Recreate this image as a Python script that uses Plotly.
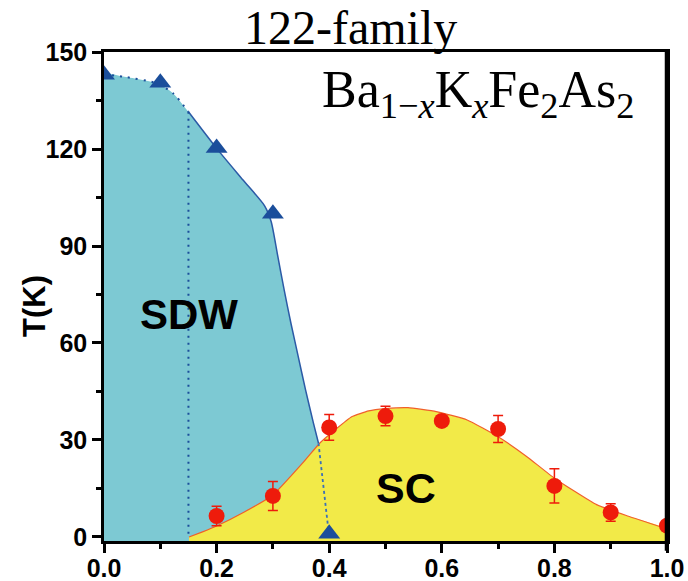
import plotly.graph_objects as go

# ---------------- data ----------------
# SDW transition points (triangles)
x_sdw = [0.0, 0.1, 0.2, 0.3, 0.4]
t_sdw = [143.0, 140.5, 120.3, 100.0, 1.0]

# SC transition points (circles) with error bars
x_sc = [0.2, 0.3, 0.4, 0.5, 0.6, 0.7, 0.8, 0.9, 1.0]
t_sc = [6.5, 12.7, 33.9, 37.4, 35.9, 33.4, 15.8, 7.6, 3.5]
t_sc_err = [3.0, 4.5, 4.0, 3.0, 1.5, 4.2, 5.3, 2.7, 1.0]

# SDW phase boundary (shaded region edge)
sdw_bx = [0.0, 0.034, 0.094, 0.123, 0.15, 0.2, 0.247, 0.285, 0.297, 0.308,
          0.320, 0.332, 0.345, 0.358, 0.372, 0.381]
sdw_by = [143.0, 142.4, 140.3, 137.2, 131.5, 120.2, 110.4, 102.5, 97.5, 87.5,
          76.4, 66.1, 55.8, 45.5, 35.2, 29.0]

# SC dome boundary
sc_bx = [0.151, 0.175, 0.2, 0.25, 0.3, 0.355, 0.383, 0.41, 0.44, 0.47, 0.5,
         0.54, 0.59, 0.645, 0.70, 0.75, 0.80, 0.875, 0.93, 1.0]
sc_by = [0.0, 1.6, 3.4, 7.8, 13.0, 23.3, 29.0, 33.1, 37.2, 39.0, 39.7,
         40.0, 38.8, 36.2, 31.0, 25.0, 18.2, 10.0, 6.5, 2.5]

# dotted guide lines
x_split = 0.15           # vertical dotted line position
x_sdw_end = 0.4          # SDW line extrapolated to T=0

x_ticks = [0.0, 0.2, 0.4, 0.6, 0.8, 1.0]
x_ticklabels = ["0.0", "0.2", "0.4", "0.6", "0.8", "1.0"]
y_ticks = [0, 30, 60, 90, 120, 150]
y_ticklabels = ["0", "30", "60", "90", "120", "150"]

Y_MIN, Y_MAX = -1.24, 150.0

# ---------------- colours ----------------
CYAN = "#7dc9d3"
YELLOW = "#f2ea48"
BLUE = "#1b4e9b"
RED = "#ee1b0b"
SC_LINE = "#f0602a"

fig = go.Figure()

# SDW shaded region
fig.add_trace(go.Scatter(
    x=[sdw_bx[0]] + sdw_bx + [sdw_bx[-1]],
    y=[Y_MIN] + sdw_by + [Y_MIN],
    fill="toself", fillcolor=CYAN, mode="lines",
    line=dict(width=0, color=CYAN, shape="spline", smoothing=0.6),
    hoverinfo="skip", showlegend=False))

# SC shaded region
fig.add_trace(go.Scatter(
    x=sc_bx + [sc_bx[-1], sc_bx[0]],
    y=sc_by + [Y_MIN, Y_MIN],
    fill="toself", fillcolor=YELLOW, mode="lines",
    line=dict(width=0, color=YELLOW, shape="spline", smoothing=0.4),
    hoverinfo="skip", showlegend=False))

# SC dome outline
fig.add_trace(go.Scatter(
    x=sc_bx, y=sc_by, mode="lines",
    line=dict(width=1.2, color=SC_LINE, shape="spline", smoothing=0.4),
    hoverinfo="skip", showlegend=False))

# SDW dotted top segment (x < x_split)
i_split = sdw_bx.index(x_split)
fig.add_trace(go.Scatter(
    x=sdw_bx[:i_split + 1], y=sdw_by[:i_split + 1], mode="lines",
    line=dict(width=2, color=BLUE, dash="2px,6px", shape="spline", smoothing=0.6),
    showlegend=False))

# SDW solid boundary
fig.add_trace(go.Scatter(
    x=sdw_bx[i_split:], y=sdw_by[i_split:], mode="lines",
    line=dict(width=1.5, color="#2b5aa6", shape="spline", smoothing=0.6),
    showlegend=False))

# vertical dotted line
fig.add_trace(go.Scatter(
    x=[x_split, x_split], y=[sdw_by[i_split], 0], mode="lines",
    line=dict(width=2, color=BLUE, dash="2px,5px"), showlegend=False))

# dotted extrapolation to T = 0
fig.add_trace(go.Scatter(
    x=[sdw_bx[-1], x_sdw_end], y=[sdw_by[-1], 0], mode="lines",
    line=dict(width=1.8, color="#3a6fb8", dash="3px,3px"), showlegend=False))

# SDW triangles
fig.add_trace(go.Scatter(
    x=x_sdw, y=t_sdw, mode="markers",
    marker=dict(symbol="triangle-up", size=19, color=BLUE),
    showlegend=False))

# SC circles
fig.add_trace(go.Scatter(
    x=x_sc, y=t_sc, mode="markers",
    marker=dict(symbol="circle", size=16, color=RED),
    error_y=dict(type="data", array=t_sc_err, visible=True,
                 color=RED, thickness=1.5, width=5),
    showlegend=False))

axis_font = dict(family="Liberation Sans, Arial", size=25, color="black",
                 weight="bold")

fig.update_xaxes(
    range=[0, 1], tickmode="array", tickvals=x_ticks, ticktext=x_ticklabels,
    ticks="outside", ticklen=9, tickwidth=2.5, tickcolor="black",
    showline=True, linewidth=2.5, linecolor="black", mirror=True,
    showgrid=False, zeroline=False, tickfont=axis_font, automargin=False,
    ticklabelstandoff=-6,
    minor=dict(dtick=0.1, ticks="outside", ticklen=5, tickwidth=2.5,
               tickcolor="black", showgrid=False))
fig.update_yaxes(
    range=[Y_MIN, Y_MAX], tickmode="array", tickvals=y_ticks, ticktext=y_ticklabels,
    ticks="outside", ticklen=9, tickwidth=2.5, tickcolor="black",
    showline=True, linewidth=2.5, linecolor="black", mirror=True,
    showgrid=False, zeroline=False, tickfont=axis_font, automargin=False,
    minor=dict(tick0=15, dtick=30, ticks="outside", ticklen=5, tickwidth=2.5,
               tickcolor="black", showgrid=False))

# thicker right border
fig.add_shape(type="line", xref="x", yref="paper", x0=1, x1=1, y0=-0.02, y1=1,
              line=dict(color="black", width=4.5))

annos = [
    dict(text="<b>SDW</b>", x=0.151, y=68.7, xref="x", yref="y",
         font=dict(family="Liberation Sans, Arial", size=42, color="black")),
    dict(text="<b>SC</b>", x=0.537, y=15.2, xref="x", yref="y",
         font=dict(family="Liberation Sans, Arial", size=43, color="black")),
    dict(text="122-family", x=0.4387, y=1.0511, xref="paper", yref="paper",
         font=dict(family="Liberation Serif, Times New Roman", size=48, color="black")),
    dict(text="Ba<sub>1\u2212<i>x</i></sub>K<sub><i>x</i></sub>Fe<sub>2</sub>As<sub>2</sub>",
         x=0.9467, y=0.915, xref="paper", yref="paper", xanchor="right",
         font=dict(family="Liberation Serif, Times New Roman", size=52, color="black")),
    dict(text="<b>T(K)</b>", x=-0.1226, y=0.4806, xref="paper", yref="paper",
         textangle=-90,
         font=dict(family="Liberation Sans, Arial", size=31, color="black")),
]
for a in annos:
    a.setdefault("xanchor", "center")
    a.setdefault("yanchor", "middle")
    a["showarrow"] = False
    fig.add_annotation(**a)

fig.update_layout(
    width=688, height=581,
    margin=dict(l=104, r=21, t=52, b=40),
    paper_bgcolor="white", plot_bgcolor="white",
    showlegend=False)

fig.write_html("out.html")
